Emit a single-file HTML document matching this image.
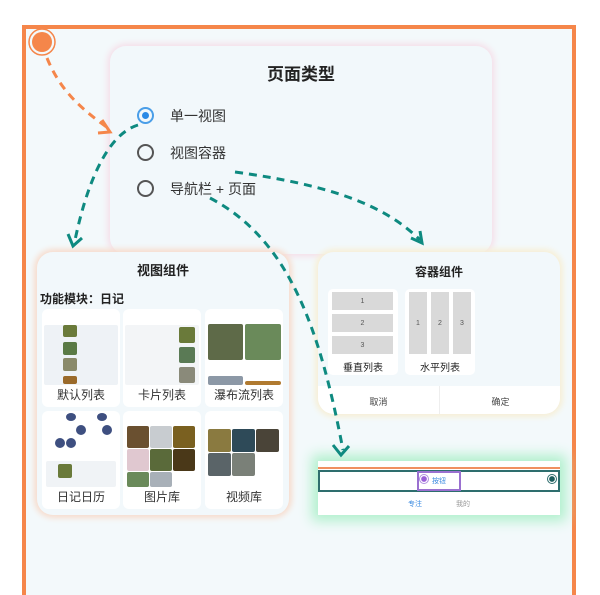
<!DOCTYPE html>
<html><head><meta charset="utf-8"><style>
*{box-sizing:border-box;margin:0;padding:0}
body{width:600px;height:582px;background:#fff;position:relative;overflow:hidden;font-family:"Liberation Sans","Noto Sans CJK SC",sans-serif;color:#222}
.abs{position:absolute}
.frame{left:22px;top:25px;width:554px;height:570px;border:4px solid #f5864a;border-bottom:none;background:#f3f9fb}
.card{background:#f2f8fb;border-radius:16px}
.t{position:absolute;text-align:center}
.tile{position:absolute;background:#fff;border-radius:6px;width:78px;height:98px;overflow:hidden}
.tile .lab{position:absolute;bottom:4px;left:0;right:0;text-align:center;font-size:12px;color:#333}
.ph{position:absolute;border-radius:2px}
.bar{position:absolute;background:#d9d9d9;font-size:7px;color:#555;display:flex;align-items:center;justify-content:center}
</style></head><body>
<div class="abs frame"></div>

<!-- page type card -->
<div class="abs card" style="left:110px;top:46px;width:382px;height:208px;box-shadow:0 0 7px 2px #f6dbe6"></div>
<div class="t" style="left:110px;width:382px;top:60px;font-size:17px;font-weight:bold">页面类型</div>
<div class="abs" style="left:137px;top:107px;width:17px;height:17px;border:2px solid #4a9ee8;border-radius:50%"></div>
<div class="abs" style="left:142px;top:112px;width:7px;height:7px;background:#2b8ae6;border-radius:50%"></div>
<div class="abs" style="left:137px;top:144px;width:17px;height:17px;border:2px solid #555;border-radius:50%"></div>
<div class="abs" style="left:137px;top:180px;width:17px;height:17px;border:2px solid #555;border-radius:50%"></div>
<div class="abs" style="left:170px;top:106px;font-size:14px;color:#333">单一视图</div>
<div class="abs" style="left:170px;top:143px;font-size:14px;color:#333">视图容器</div>
<div class="abs" style="left:170px;top:179px;font-size:14px;color:#333">导航栏 + 页面</div>

<!-- view components card -->
<div class="abs card" style="left:37px;top:252px;width:252px;height:263px;box-shadow:0 0 6px 3px #f7dccd"></div>
<div class="t" style="left:37px;width:252px;top:260px;font-size:13px;font-weight:bold">视图组件</div>
<div class="abs" style="left:40px;top:290px;font-size:12px;font-weight:bold">功能模块：日记</div>

<div class="tile" style="left:42px;top:309px">
 <div class="ph" style="left:2px;top:16px;width:74px;height:60px;background:#eef2f6"></div>
 <div class="ph" style="left:21px;top:16px;width:14px;height:12px;background:#6a7a3a"></div>
 <div class="ph" style="left:21px;top:33px;width:14px;height:13px;background:#5a7a45"></div>
 <div class="ph" style="left:21px;top:49px;width:14px;height:13px;background:#8a8a6a"></div>
 <div class="ph" style="left:21px;top:67px;width:14px;height:8px;background:#9a6a2a"></div>
 <div class="lab">默认列表</div></div>
<div class="tile" style="left:123px;top:309px">
 <div class="ph" style="left:2px;top:16px;width:74px;height:60px;background:#f3f5f7"></div>
 <div class="ph" style="left:56px;top:18px;width:16px;height:16px;background:#6a7a3a"></div>
 <div class="ph" style="left:56px;top:38px;width:16px;height:16px;background:#5a7a55"></div>
 <div class="ph" style="left:56px;top:58px;width:16px;height:16px;background:#8a8a7a"></div>
 <div class="lab">卡片列表</div></div>
<div class="tile" style="left:205px;top:309px">
 <div class="ph" style="left:3px;top:15px;width:35px;height:36px;background:#5e6a48"></div>
 <div class="ph" style="left:40px;top:15px;width:36px;height:36px;background:#6a8a5a"></div>
 <div class="ph" style="left:3px;top:67px;width:35px;height:9px;background:#8c98a6"></div>
 <div class="ph" style="left:40px;top:72px;width:36px;height:4px;background:#b07a30"></div>
 <div class="lab">瀑布流列表</div></div>
<div class="tile" style="left:42px;top:411px">
 <div class="ph" style="left:24px;top:2px;width:10px;height:8px;border-radius:50%;background:#3e4f80"></div>
 <div class="ph" style="left:55px;top:2px;width:10px;height:8px;border-radius:50%;background:#3e4f80"></div>
 <div class="ph" style="left:34px;top:14px;width:10px;height:10px;border-radius:50%;background:#3e4f80"></div>
 <div class="ph" style="left:60px;top:14px;width:10px;height:10px;border-radius:50%;background:#3e4f80"></div>
 <div class="ph" style="left:13px;top:27px;width:10px;height:10px;border-radius:50%;background:#3e4f80"></div>
 <div class="ph" style="left:24px;top:27px;width:10px;height:10px;border-radius:50%;background:#3e4f80"></div>
 <div class="ph" style="left:4px;top:50px;width:70px;height:26px;background:#f0f3f6"></div>
 <div class="ph" style="left:16px;top:53px;width:14px;height:14px;background:#6a7a3a"></div>
 <div class="lab">日记日历</div></div>
<div class="tile" style="left:123px;top:411px">
 <div class="ph" style="left:4px;top:15px;width:22px;height:22px;background:#6a5030"></div>
 <div class="ph" style="left:27px;top:15px;width:22px;height:22px;background:#c8ccd0"></div>
 <div class="ph" style="left:50px;top:15px;width:22px;height:22px;background:#7a6020"></div>
 <div class="ph" style="left:4px;top:38px;width:22px;height:22px;background:#e0c8d0"></div>
 <div class="ph" style="left:27px;top:38px;width:22px;height:22px;background:#5a6a3a"></div>
 <div class="ph" style="left:50px;top:38px;width:22px;height:22px;background:#4a3818"></div>
 <div class="ph" style="left:4px;top:61px;width:22px;height:15px;background:#6a8a5a"></div>
 <div class="ph" style="left:27px;top:61px;width:22px;height:15px;background:#a8b0b8"></div>
 <div class="lab">图片库</div></div>
<div class="tile" style="left:205px;top:411px">
 <div class="ph" style="left:3px;top:18px;width:23px;height:23px;background:#8a7a40"></div>
 <div class="ph" style="left:27px;top:18px;width:23px;height:23px;background:#2e4a58"></div>
 <div class="ph" style="left:51px;top:18px;width:23px;height:23px;background:#4a4438"></div>
 <div class="ph" style="left:3px;top:42px;width:23px;height:23px;background:#5a6468"></div>
 <div class="ph" style="left:27px;top:42px;width:23px;height:23px;background:#7a8078"></div>
 <div class="lab">视频库</div></div>

<!-- container card -->
<div class="abs" style="left:318px;top:252px;width:242px;height:162px;border-radius:16px;background:#f2f8fb;box-shadow:0 0 6px 3px #f7efd6;overflow:hidden">
 <div class="abs" style="left:0;top:134px;width:242px;height:28px;background:#fff"></div>
 <div class="abs" style="left:121px;top:134px;width:1px;height:28px;background:#eee"></div>
</div>
<div class="t" style="left:318px;width:242px;top:263px;font-size:12px;font-weight:bold">容器组件</div>
<div class="abs" style="left:328px;top:289px;width:70px;height:86px;background:#fff;border-radius:5px"></div>
<div class="bar" style="left:332px;top:292px;width:61px;height:18px">1</div>
<div class="bar" style="left:332px;top:314px;width:61px;height:18px">2</div>
<div class="bar" style="left:332px;top:336px;width:61px;height:18px">3</div>
<div class="t" style="left:328px;width:70px;top:359px;font-size:10px">垂直列表</div>
<div class="abs" style="left:405px;top:289px;width:70px;height:86px;background:#fff;border-radius:5px"></div>
<div class="bar" style="left:409px;top:292px;width:18px;height:62px">1</div>
<div class="bar" style="left:431px;top:292px;width:18px;height:62px">2</div>
<div class="bar" style="left:453px;top:292px;width:18px;height:62px">3</div>
<div class="t" style="left:405px;width:70px;top:359px;font-size:10px">水平列表</div>
<div class="t" style="left:318px;width:121px;top:395px;font-size:9px;color:#444">取消</div>
<div class="t" style="left:440px;width:121px;top:395px;font-size:9px;color:#444">确定</div>

<!-- nav component -->
<div class="abs" style="left:318px;top:461px;width:242px;height:54px;background:#fff;box-shadow:0 0 12px 6px #b0f0cc"></div>
<div class="abs" style="left:318px;top:467px;width:242px;height:2px;background:#f09060"></div>
<div class="abs" style="left:318px;top:470px;width:242px;height:22px;border:2px solid #2e6e6e"></div>
<div class="abs" style="left:417px;top:471px;width:44px;height:20px;border:2px solid #9a70d0"></div>
<div class="abs" style="left:432px;top:476px;font-size:7px;color:#3a8ae0">按钮</div>
<div class="abs" style="left:419px;top:474px;width:10px;height:10px;border-radius:50%;border:1px solid #b090e0;background:radial-gradient(#9a60d8 45%,#fff 55%)"></div>
<div class="abs" style="left:547px;top:474px;width:10px;height:10px;border-radius:50%;border:1px solid #2e6e6e;background:radial-gradient(#1e5e5e 45%,#fff 55%)"></div>
<div class="abs" style="left:408px;top:499px;font-size:7px;color:#3a8ae0">专注</div>
<div class="abs" style="left:456px;top:499px;font-size:7px;color:#999">我的</div>

<!-- connectors -->
<svg class="abs" style="left:0;top:0" width="600" height="582" viewBox="0 0 600 582">
 <circle cx="42" cy="42" r="10" fill="#f5864a"/>
 <circle cx="42" cy="42" r="13" fill="none" stroke="#f5864a" stroke-width="1.5"/>
 <g fill="none" stroke-width="3" stroke-dasharray="8,6">
  <path d="M47 58 C60 90 80 108 108 128" stroke="#f5864a"/>
  <path d="M138 125 C105 135 85 190 74 245" stroke="#0e8a80"/>
  <path d="M235 172 C330 185 385 205 420 240" stroke="#0e8a80"/>
  <path d="M210 198 C290 240 320 330 343 450" stroke="#0e8a80"/>
 </g>
 <g fill="none" stroke-width="3">
  <path d="M102 120 L110 132 L98 133" stroke="#f5864a"/>
  <path d="M68 234 L73 246 L82 238" stroke="#0e8a80"/>
  <path d="M411 238 L422 243 L420 231" stroke="#0e8a80"/>
  <path d="M333 445 L341 455 L349 446" stroke="#0e8a80"/>
 </g>
</svg>
</body></html>
